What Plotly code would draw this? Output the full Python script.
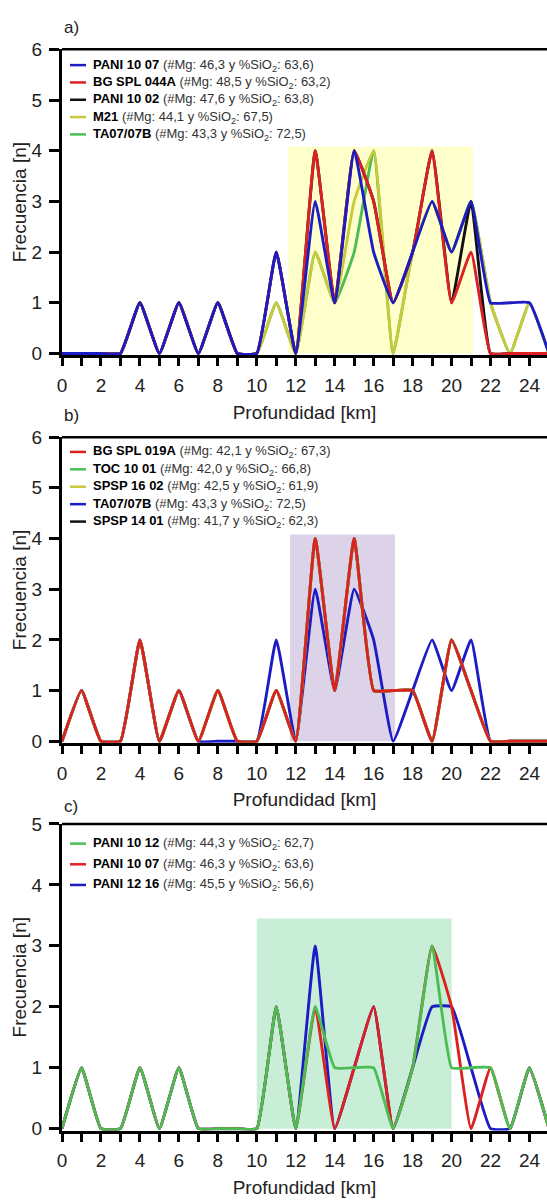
import plotly.graph_objects as go

# Depth (km) sampled at each integer
km = list(range(26))

# Panel a) frequency per depth
a_pani_10_07 = [0, 0, 0, 0, 1, 0, 1, 0, 1, 0, 0, 2, 0, 3, 1, 4, 2, 1, 2, 3, 2, 3, 1, 1, 1, 0]
a_bg_spl_044a = [0, 0, 0, 0, 1, 0, 1, 0, 1, 0, 0, 2, 0, 4, 1, 4, 3, 1, 2, 4, 1, 2, 0, 0, 0, 0]
a_pani_10_02 = [0, 0, 0, 0, 1, 0, 1, 0, 1, 0, 0, 2, 0, 4, 1, 4, 3, 1, 2, 4, 1, 3, 0, 0, 0, 0]
a_m21 = [0, 0, 0, 0, 1, 0, 1, 0, 1, 0, 0, 1, 0, 2, 1, 3, 4, 0, 2, 3, 2, 3, 1, 0, 1, 0]
a_ta07_07b = [0, 0, 0, 0, 1, 0, 1, 0, 1, 0, 0, 1, 0, 2, 1, 2, 4, 0, 2, 3, 2, 3, 1, 0, 1, 0]

# Panel b)
b_bg_spl_019a = [0, 1, 0, 0, 2, 0, 1, 0, 1, 0, 0, 1, 0, 4, 1, 4, 1, 1, 1, 0, 2, 1, 0, 0, 0, 0]
b_toc_10_01 = [0, 1, 0, 0, 2, 0, 1, 0, 1, 0, 0, 1, 0, 4, 1, 4, 1, 1, 1, 0, 2, 1, 0, 0, 0, 0]
b_spsp_16_02 = [0, 1, 0, 0, 2, 0, 1, 0, 1, 0, 0, 1, 0, 4, 1, 4, 1, 1, 1, 0, 2, 1, 0, 0, 0, 0]
b_ta07_07b = [0, 1, 0, 0, 2, 0, 1, 0, 0, 0, 0, 2, 0, 3, 1, 3, 2, 0, 1, 2, 1, 2, 0, 0, 0, 0]
b_spsp_14_01 = [0, 1, 0, 0, 2, 0, 1, 0, 1, 0, 0, 1, 0, 4, 1, 4, 1, 1, 1, 0, 2, 1, 0, 0, 0, 0]

# Panel c)
c_pani_10_12 = [0, 1, 0, 0, 1, 0, 1, 0, 0, 0, 0, 2, 0, 2, 1, 1, 1, 0, 1, 3, 1, 1, 1, 0, 1, 0]
c_pani_10_07 = [0, 1, 0, 0, 1, 0, 1, 0, 0, 0, 0, 2, 0, 2, 0, 1, 2, 0, 1, 3, 2, 0, 1, 0, 1, 0]
c_pani_12_16 = [0, 1, 0, 0, 1, 0, 1, 0, 0, 0, 0, 2, 0, 3, 0, 1, 2, 0, 1, 2, 2, 1, 0, 0, 1, 0]

# Highlighted depth windows: (x0, x1, top)
a_window = (11.6, 21.1, 4.08)
b_window = (11.7, 17.1, 4.08)
c_window = (10.0, 20.0, 3.45)

BLUE = "#1c1cc4"
RED = "#dd2020"
BLACK = "#111111"
YELLOW = "#c9c93e"
GREEN = "#4cbd52"


def label(name, mg, sio2):
    return (f"<b>{name}</b> <span style='color:#333'>(#Mg: {mg} y %SiO<sub>2</sub>: {sio2})</span>")


# (panel, values, colour, legend text) in drawing order (last on top)
series = [
    (1, a_ta07_07b, GREEN, label("TA07/07B", "43,3", "72,5")),
    (1, a_m21, YELLOW, label("M21", "44,1", "67,5")),
    (1, a_pani_10_02, BLACK, label("PANI 10 02", "47,6", "63,8")),
    (1, a_bg_spl_044a, RED, label("BG SPL 044A", "48,5", "63,2")),
    (1, a_pani_10_07, BLUE, label("PANI 10 07", "46,3", "63,6")),
    (2, b_spsp_14_01, BLACK, label("SPSP 14 01", "41,7", "62,3")),
    (2, b_ta07_07b, BLUE, label("TA07/07B", "43,3", "72,5")),
    (2, b_spsp_16_02, YELLOW, label("SPSP 16 02", "42,5", "61,9")),
    (2, b_toc_10_01, GREEN, label("TOC 10 01", "42,0", "66,8")),
    (2, b_bg_spl_019a, RED, label("BG SPL 019A", "42,1", "67,3")),
    (3, c_pani_12_16, BLUE, label("PANI 12 16", "45,5", "56,6")),
    (3, c_pani_10_07, RED, label("PANI 10 07", "46,3", "63,6")),
    (3, c_pani_10_12, GREEN, label("PANI 10 12", "44,3", "62,7")),
]

fig = go.Figure()
for panel, vals, col, name in series:
    sfx = "" if panel == 1 else str(panel)
    fig.add_trace(go.Scatter(
        x=km, y=vals, mode="lines", name=name, showlegend=False,
        line=dict(color=col, width=2.9, shape="spline", smoothing=0.35),
        xaxis="x" + sfx, yaxis="y" + sfx,
    ))

H = 1203
W = 547
# pixel rows of each panel (top, bottom, max y)
panels = {1: (40, 350.5, 6), 2: (434, 744.5, 6), 3: (827, 1138.5, 5)}
windows = {1: (a_window, "#ffffcc"), 2: (b_window, "#ddd3e8"), 3: (c_window, "#c9eed8")}
tags = {1: ("a)", 18), 2: ("b)", 412), 3: ("c)", 809)}
# key rows: first row centre and row spacing, in pixels
key_rows = {1: (56, 17.6), 2: (449, 17.7), 3: (847, 21)}

FONT = "Arial, Liberation Sans, sans-serif"
layout = dict(
    width=W, height=H,
    margin=dict(l=62, r=0, t=0, b=0),
    paper_bgcolor="white", plot_bgcolor="white",
    font=dict(family=FONT, color="#222", size=19),
    showlegend=False,
)
shapes = []
annotations = []
for p, (top, bot, ymax) in panels.items():
    sfx = "" if p == 1 else str(p)
    layout["xaxis" + sfx] = dict(
        range=[0, 24.9], domain=[0, 1], anchor="y" + sfx,
        tickmode="linear", tick0=0, dtick=2, ticks="outside", ticklen=8, tickwidth=2.5,
        tickcolor="black", showline=True, linecolor="black", linewidth=3,
        showgrid=False, zeroline=False, layer="below traces",
        minor=dict(dtick=1, tick0=0, ticks="outside", ticklen=8, tickwidth=2.5,
                   tickcolor="black", showgrid=False),
        tickfont=dict(size=19, color="#222"), ticklabelstandoff=3,
        title=dict(text="Profundidad [km]", font=dict(size=19, color="#222"), standoff=11),
    )
    layout["yaxis" + sfx] = dict(
        range=[-0.03, ymax], domain=[1 - bot / H, 1 - top / H], anchor="x" + sfx,
        tickmode="linear", tick0=0, dtick=1, ticks="outside", ticklen=10, tickwidth=2.5,
        tickcolor="black", showline=True, linecolor="black", linewidth=3,
        showgrid=False, zeroline=False, layer="below traces",
        tickfont=dict(size=19, color="#222"), ticklabelstandoff=3,
        title=dict(text="Frecuencia [n]", font=dict(size=19, color="#222"), standoff=0),
    )
    (x0, x1, ytop), fill = windows[p]
    shapes.append(dict(type="rect", xref="x" + sfx, yref="y" + sfx, x0=x0, x1=x1, y0=0, y1=ytop,
                       fillcolor=fill, line=dict(width=0), layer="below"))
    shapes.append(dict(type="line", xref=f"x{sfx} domain", yref=f"y{sfx} domain", x0=0, x1=1, y0=1, y1=1,
                       line=dict(color="black", width=2.5)))
    txt, ypx = tags[p]
    annotations.append(dict(text=txt, xref="paper", yref="paper", x=0.0, y=1 - ypx / H,
                            xanchor="left", yanchor="middle", showarrow=False,
                            font=dict(size=17, color="#222")))

    # key entries for this panel, top row first (reverse of drawing order)
    entries = [s for s in series if s[0] == p][::-1]
    y0px, step = key_rows[p]
    for i, (_, _, col, name) in enumerate(entries):
        ypx = y0px + i * step
        yp = 1 - ypx / H
        shapes.append(dict(type="line", xref="paper", yref="paper",
                           x0=(70 - 62) / (W - 62), x1=(86 - 62) / (W - 62), y0=yp, y1=yp,
                           line=dict(color=col, width=2.5)))
        annotations.append(dict(text=name, xref="paper", yref="paper",
                                x=(91 - 62) / (W - 62), y=yp, xanchor="left", yanchor="middle",
                                showarrow=False, font=dict(size=13, color="black", family=FONT)))

layout["shapes"] = shapes
layout["annotations"] = annotations
fig.update_layout(**layout)
fig.write_html("out.html")
